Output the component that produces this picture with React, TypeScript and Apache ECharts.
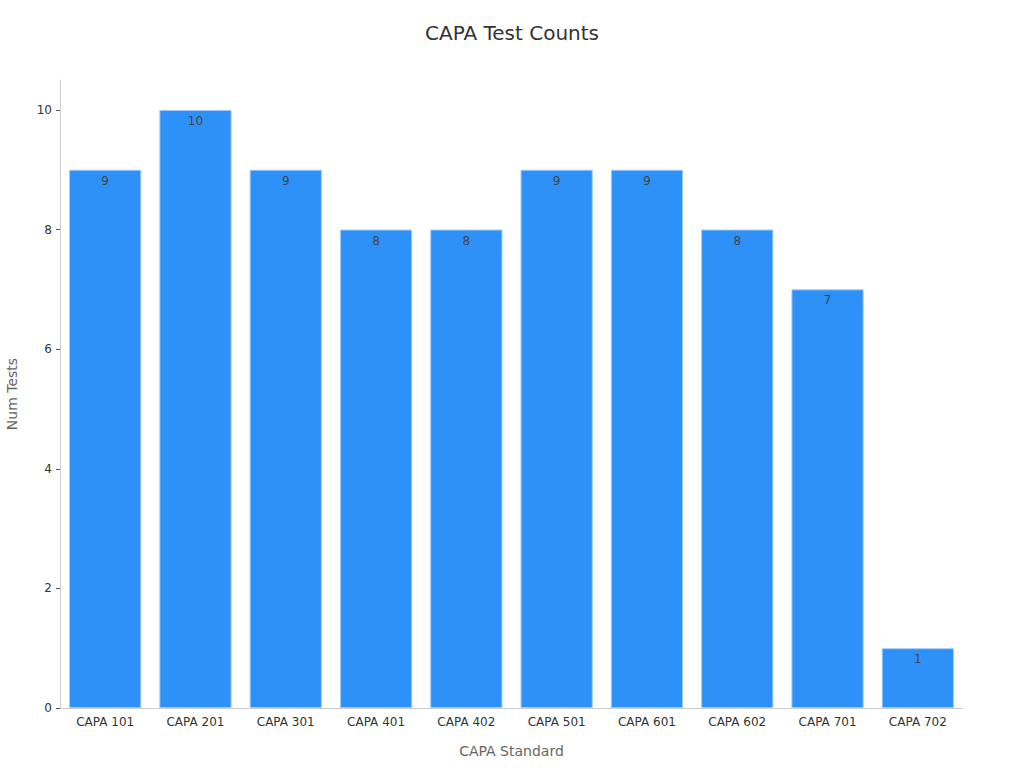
import { useEffect, useRef } from 'react';
import * as echarts from 'echarts';

const categories = [
  'CAPA 101',
  'CAPA 201',
  'CAPA 301',
  'CAPA 401',
  'CAPA 402',
  'CAPA 501',
  'CAPA 601',
  'CAPA 602',
  'CAPA 701',
  'CAPA 702',
];
const testCounts = [9, 10, 9, 8, 8, 9, 9, 8, 7, 1];

const FONT = 'DejaVu Sans, sans-serif';

export default function App() {
  const chartRef = useRef<HTMLDivElement>(null);

  useEffect(() => {
    if (!chartRef.current) return;
    const chart = echarts.init(chartRef.current, undefined, { renderer: 'svg' });

    const option: echarts.EChartsOption = {
      animation: false,
      backgroundColor: '#ffffff',
      textStyle: { fontFamily: FONT },
      title: {
        text: 'CAPA Test Counts',
        left: 'center',
        top: 18,
        textStyle: {
          color: '#333333',
          fontSize: 20,
          fontWeight: 'normal',
          fontFamily: FONT,
        },
      },
      grid: {
        left: 60,
        right: 61,
        top: 80,
        bottom: 60,
        containLabel: false,
        outerBoundsMode: 'none',
      } as any,
      xAxis: {
        type: 'category',
        data: categories,
        name: 'CAPA Standard',
        nameLocation: 'middle',
        nameGap: 36,
        nameTextStyle: { color: '#666666', fontSize: 14, fontFamily: FONT },
        axisLine: { lineStyle: { color: '#cccccc' } },
        axisTick: {
          alignWithLabel: true,
          length: 4,
          lineStyle: { color: '#555555' },
        },
        axisLabel: { color: '#333333', fontSize: 12, margin: 8, fontFamily: FONT },
      },
      yAxis: {
        type: 'value',
        min: 0,
        max: 10.5,
        interval: 2,
        name: 'Num Tests',
        nameLocation: 'middle',
        nameGap: 41,
        nameTextStyle: { color: '#666666', fontSize: 14, fontFamily: FONT },
        axisLine: { show: true, lineStyle: { color: '#cccccc' } },
        axisTick: { show: true, length: 4, lineStyle: { color: '#555555' } },
        axisLabel: {
          color: '#333333',
          fontSize: 12,
          margin: 8,
          fontFamily: FONT,
          showMaxLabel: false,
        },
        splitLine: { show: false },
      },
      series: [
        {
          name: 'Num Tests',
          type: 'bar',
          data: testCounts,
          barCategoryGap: '20%',
          itemStyle: {
            color: '#2e91f8',
            borderColor: '#9fcbfb',
            borderWidth: 1,
          },
          label: {
            show: true,
            position: 'insideTop',
            distance: 5,
            color: '#444444',
            fontSize: 12,
            fontFamily: FONT,
          },
        },
      ],
    };

    chart.setOption(option);

    return () => {
      chart.dispose();
    };
  }, []);

  return (
    <div
      ref={chartRef}
      style={{ position: 'fixed', left: 0, top: 0, width: 1024, height: 768 }}
    />
  );
}
